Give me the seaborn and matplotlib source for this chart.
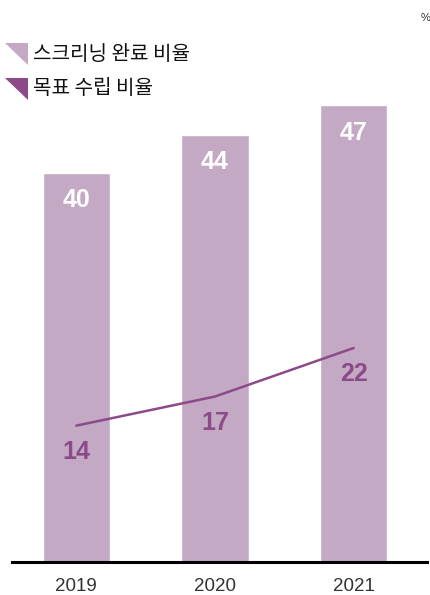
import matplotlib
matplotlib.use("Agg")
import matplotlib.pyplot as plt
from matplotlib.patches import Polygon
import seaborn as sns
import pandas as pd

# ============================================================
# Data
# ============================================================

years = ["2019", "2020", "2021"]
screening_rate = [40, 44, 47]   # 스크리닝 완료 비율
goal_rate = [14, 17, 22]        # 목표 수립 비율
legend_labels = ["스크리닝 완료 비율", "목표 수립 비율"]
unit_label = "%"

bar_color = "#c4a9c4"
line_color = "#8c4a89"

df = pd.DataFrame({"year": years, "screening": screening_rate, "goal": goal_rate})

# ============================================================
# Figure
# ============================================================

sns.set_theme(style="white")
plt.rcParams["font.family"] = ["Noto Sans CJK KR", "DejaVu Sans"]

W, H = 431, 595
fig = plt.figure(figsize=(W / 100, H / 100), dpi=100)
ax = fig.add_axes([12 / W, 33.5 / H, 415 / W, 541.5 / H])

sns.barplot(data=df, x="year", y="screening", color=bar_color,
            width=0.484, saturation=1, ax=ax)
sns.pointplot(data=df, x="year", y="goal", color=line_color, markers="",
              linewidth=1.8, errorbar=None, ax=ax)

ax.set_xlim(-0.464, 2.529)
ax.set_ylim(0, 55.8)

# value labels
for i, v in enumerate(screening_rate):
    ax.text(i, v - 2.8, str(v), ha="center", va="center", color="white",
            fontsize=18, fontweight="bold", family="Liberation Sans")
for i, v in enumerate(goal_rate):
    ax.text(i, v - 2.7, str(v), ha="center", va="center", color=line_color,
            fontsize=18, fontweight="bold", family="Liberation Sans")

# axes styling
for s in ["top", "right", "left"]:
    ax.spines[s].set_visible(False)
ax.spines["bottom"].set_linewidth(2.2)
ax.spines["bottom"].set_color("black")
ax.set_yticks([])
ax.set_xlabel("")
ax.set_ylabel("")
ax.tick_params(axis="x", length=0, pad=12, labelsize=13.5, labelcolor="#333333")
for t in ax.get_xticklabels():
    t.set_family("Liberation Sans")

# ============================================================
# Legend (triangles) and unit
# ============================================================

def fc(x, y):
    return (x / W, 1 - y / H)

tri_colors = [bar_color, line_color]
tri_tops = [43, 78]
for lab, col, top in zip(legend_labels, tri_colors, tri_tops):
    tri = Polygon([fc(5, top), fc(28, top), fc(28, top + 22)], closed=True,
                  facecolor=col, edgecolor="none", transform=fig.transFigure)
    fig.add_artist(tri)
    fig.text(*fc(33, top + 11), lab, ha="left", va="center",
             fontsize=14.5, color="#111111")

fig.text(*fc(426, 18), unit_label, ha="center", va="center",
         fontsize=8, color="#333333", family="Liberation Sans")

plt.savefig("out.png", dpi=100)
